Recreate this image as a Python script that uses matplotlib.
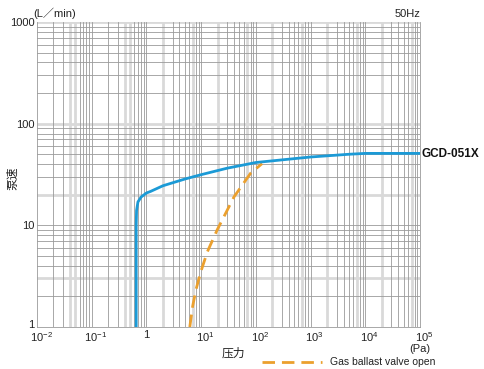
import matplotlib
matplotlib.use("Agg")
import matplotlib.pyplot as plt
import matplotlib.transforms as mtransforms
import numpy as np

plt.rcParams['font.family'] = ['Liberation Sans', 'Noto Sans CJK SC', 'DejaVu Sans']
plt.rcParams['mathtext.fontset'] = 'custom'
plt.rcParams['mathtext.rm'] = 'Liberation Sans'
plt.rcParams['mathtext.it'] = 'Liberation Sans'

# Data
pump_pressure = [0.65, 0.65, 0.66, 0.70, 0.80, 1.0, 1.2, 2.0, 5.0, 10, 30, 80, 100, 570, 1000, 5000, 10000, 100000]
pump_speed = [1.0, 10, 14, 17, 19.0, 20.8, 21.6, 24.5, 28.5, 31.5, 36.5, 40.5, 41.5, 45.6, 47, 50, 51, 51]
ballast_pressure = [6.2, 7.0, 8.0, 9.7, 13, 19.6, 40, 80, 130]
ballast_speed = [1.0, 1.6, 2.3, 3.4, 5.5, 9.0, 19.1, 32.5, 40.5]

x_ticks = [1e-2, 1e-1, 1, 1e1, 1e2, 1e3, 1e4, 1e5]
x_labels = [r'$10^{-2}$', r'$10^{-1}$', '1', r'$10^{1}$', r'$10^{2}$', r'$10^{3}$', r'$10^{4}$', r'$10^{5}$']
y_ticks = [1, 10, 100, 1000]
y_labels = ['1', '10', '100', '1000']

model_label = 'GCD-051X'
legend_label = 'Gas ballast valve open'

fig = plt.figure(figsize=(4.84, 3.69), dpi=100)
ax = fig.add_axes([37/484, 42/369, 383/484, 305/369])
ax.set_xscale('log')
ax.set_yscale('log')
ax.set_xlim(1e-2, 1e5)
ax.set_ylim(1, 1000)

dark = '#9a9a9a'
light = '#d9d9d9'
# vertical grid
for d in range(-2, 5):
    for m in range(1, 10):
        v = m * 10.0 ** d
        if m == 1 and d == -2:
            continue
        lv = (d in (-2, -1) and m in (4, 5)) or (d >= 0 and m in (2, 7))
        if lv:
            ax.axvline(v, color=light, lw=2.0, zorder=1)
        else:
            ax.axvline(v, color=dark, lw=0.6, zorder=1.5)
# horizontal grid
for d in range(0, 3):
    for m in range(1, 10):
        v = m * 10.0 ** d
        if v == 1:
            continue
        if v in (3, 20, 100):
            ax.axhline(v, color=light, lw=2.0, zorder=1)
        else:
            ax.axhline(v, color=dark, lw=0.6, zorder=1.5)
ax.axhline(1000, color=light, lw=2.0, zorder=1)

for s in ax.spines.values():
    s.set_color(dark)
    s.set_linewidth(0.6)
ax.spines['top'].set_visible(False)

ax.plot(pump_pressure, pump_speed, color='#1b9ad6', lw=2.0, zorder=4, solid_capstyle='butt')
ax.plot(ballast_pressure, ballast_speed, color='#eba02e', lw=2.0, zorder=3,
        dashes=(4.5, 2.5))

ax.set_xticks(x_ticks)
ax.set_xticklabels(x_labels, fontsize=8, color='#222222')
ax.set_yticks(y_ticks)
ax.set_yticklabels(y_labels, fontsize=8, color='#222222')
ax.minorticks_off()
ax.tick_params(length=0, pad=2)
shift = mtransforms.ScaledTranslation(4/100, 0, fig.dpi_scale_trans)
for lab in ax.get_xticklabels():
    if lab.get_text() != '1':
        lab.set_transform(lab.get_transform() + shift)
yshift = mtransforms.ScaledTranslation(0, 3/100, fig.dpi_scale_trans)
ax.get_yticklabels()[0].set_transform(ax.get_yticklabels()[0].get_transform() + yshift)

fig.text(33/484, 1 - 13/369, '(L／min)', fontsize=8, color='#222222', va='center', ha='left')
fig.text(420/484, 1 - 14/369, '50Hz', fontsize=8, color='#222222', va='center', ha='right')
fig.text(420/484, 1 - 349/369, '(Pa)', fontsize=8, color='#222222', va='center', ha='center')
fig.text(233/484, 1 - 354/369, '压力', fontsize=8.5, color='#222222', va='center', ha='center')
fig.text(13/484, 1 - 178/369, '泵速', fontsize=8.5, color='#222222', va='center', ha='center', rotation=90)
fig.text(421/484, 1 - 154/369, model_label, fontsize=8.5, fontweight='bold', color='#111111',
         va='center', ha='left', family=['Liberation Sans Narrow', 'Liberation Sans'])

fig.lines.append(plt.Line2D([262/484, 322/484], [1 - 362/369, 1 - 362/369], transform=fig.transFigure,
                            color='#eba02e', lw=2.0, dashes=(4.5, 2.5)))
fig.text(330/484, 1 - 362/369, legend_label, fontsize=7.5, color='#222222', va='center', ha='left')

fig.savefig('out.png', dpi=100)
